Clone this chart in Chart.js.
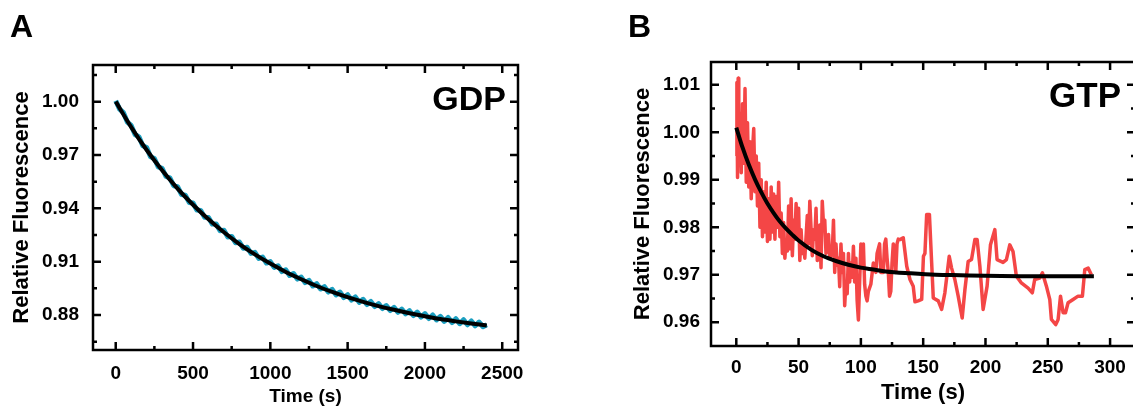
<!DOCTYPE html>
<html>
<head>
<meta charset="utf-8">
<script src="https://cdn.jsdelivr.net/npm/chart.js@4.4.1/dist/chart.umd.min.js"></script>
<style>
  html, body { margin: 0; padding: 0; background: #fff; overflow: hidden; }
  body { width: 1133px; height: 406px; position: relative; }
  canvas { position: absolute; top: 0; }
</style>
</head>
<body>
<canvas id="gdpChart" width="560" height="406" style="left:0"></canvas>
<canvas id="gtpChart" width="540" height="406" style="left:600px"></canvas>
<script>
// Panel A: GDP trace (every 25 s) and single-exponential fit
const gdpTime = [0, 25, 50, 75, 100, 125, 150, 175, 200, 225, 250, 275, 300, 325, 350, 375, 400, 425, 450, 475,
  500, 525, 550, 575, 600, 625, 650, 675, 700, 725, 750, 775, 800, 825, 850, 875, 900, 925, 950, 975,
  1000, 1025, 1050, 1075, 1100, 1125, 1150, 1175, 1200, 1225, 1250, 1275, 1300, 1325, 1350, 1375, 1400, 1425,
  1450, 1475, 1500, 1525, 1550, 1575, 1600, 1625, 1650, 1675, 1700, 1725, 1750, 1775, 1800, 1825, 1850, 1875,
  1900, 1925, 1950, 1975, 2000, 2025, 2050, 2075, 2100, 2125, 2150, 2175, 2200, 2225, 2250, 2275, 2300, 2325,
  2350, 2375, 2400]
const gdpSignal = [1.0005, 0.9958, 0.9938, 0.9885, 0.9866, 0.9815, 0.9802, 0.9752, 0.9742, 0.9690, 0.9680, 0.9633,
  0.9625, 0.9579, 0.9571, 0.9527, 0.9522, 0.9478, 0.9474, 0.9433, 0.9430, 0.9390, 0.9388, 0.9349, 0.9348, 0.9311,
  0.9311, 0.9274, 0.9276, 0.9239, 0.9242, 0.9206, 0.9210, 0.9175, 0.9181, 0.9146, 0.9152, 0.9118, 0.9126, 0.9092,
  0.9100, 0.9068, 0.9077, 0.9044, 0.9054, 0.9022, 0.9033, 0.9002, 0.9013, 0.8982, 0.8995, 0.8963, 0.8976, 0.8946,
  0.8959, 0.8929, 0.8944, 0.8913, 0.8929, 0.8898, 0.8914, 0.8884, 0.8901, 0.8871, 0.8888, 0.8859, 0.8876, 0.8847,
  0.8864, 0.8836, 0.8853, 0.8825, 0.8843, 0.8815, 0.8833, 0.8806, 0.8824, 0.8797, 0.8816, 0.8788, 0.8808, 0.8780,
  0.8800, 0.8772, 0.8792, 0.8764, 0.8786, 0.8757, 0.8779, 0.8751, 0.8773, 0.8745, 0.8766, 0.8739, 0.8760, 0.8734,
  0.8745]
const gdpFitTime = [0, 100, 200, 300, 400, 500, 600, 700, 800, 900, 1000, 1100, 1200, 1300, 1400, 1500, 1600, 1700,
  1800, 1900, 2000, 2100, 2200, 2300, 2400]
const gdpFit = [1.0000, 0.9857, 0.9728, 0.9614, 0.9511, 0.9420, 0.9338, 0.9265, 0.9199, 0.9141, 0.9089, 0.9042,
  0.9001, 0.8963, 0.8930, 0.8900, 0.8874, 0.8850, 0.8829, 0.8810, 0.8793, 0.8777, 0.8764, 0.8752, 0.8741]
const gdpXTicks = [0, 500, 1000, 1500, 2000, 2500]
const gdpYTicks = [0.88, 0.91, 0.94, 0.97, 1.00]

// Panel B: GTP trace and fit
const gtpTime = [0, 0.5, 1, 1.5, 2, 3, 4, 5, 6, 7, 8, 9, 10, 11, 12, 13, 14, 15, 16, 17, 18, 19, 20, 21, 22, 23, 24,
  25, 26, 27, 28, 29, 30, 31, 32, 33, 34, 35, 36, 37, 38, 39, 40, 41, 42, 43, 44, 45, 46, 47, 48, 49, 50, 51, 52,
  53, 54, 55, 57, 58, 59, 61, 62, 63, 64, 65, 67, 68, 69, 70, 71, 72, 74, 75, 77, 78, 79, 80, 81, 82, 83, 84, 85,
  86, 87, 88, 89, 90, 91, 92, 93, 94, 95, 96, 97, 98, 99, 100, 101, 102, 103, 104, 105, 106, 108, 110, 112, 113,
  115, 116, 118, 119, 120, 121, 122, 123, 124, 125, 126, 127, 128, 129, 130, 131.4, 134, 136.8, 139.4, 142, 143.4,
  146, 148.8, 150.2, 151.4, 152.8, 155, 156.8, 158.1, 162.1, 164.8, 167.4, 170.9, 172.8, 175.4, 178.1, 181.3,
  183.5, 186.1, 188.8, 191.5, 193.3, 195.5, 198.1, 201.3, 204, 207.5, 209.3, 214.1, 216.8, 219.5, 222.1, 224.8,
  228.8, 234.2, 237.6, 239.5, 243.5, 245.7, 248.9, 251.6, 252.9, 256.4, 258.3, 260.2, 262.3, 264.2, 266.3, 270.3,
  274.3, 277.8, 279.7, 282.4, 285]
const gtpSignal = [0.9950, 1.0105, 0.9905, 1.0114, 0.9930, 1.0040, 0.9915, 1.0060, 0.9935, 1.0092, 0.9895, 1.0020,
  0.9885, 0.9980, 0.9860, 0.9960, 1.0008, 0.9875, 0.9950, 0.9845, 0.9935, 0.9800, 0.9900, 0.9780, 0.9875, 0.9790,
  0.9895, 0.9770, 0.9860, 0.9775, 0.9885, 0.9790, 0.9870, 0.9775, 0.9865, 0.9800, 0.9895, 0.9780, 0.9830, 0.9745,
  0.9810, 0.9735, 0.9775, 0.9750, 0.9845, 0.9755, 0.9860, 0.9740, 0.9815, 0.9775, 0.9850, 0.9775, 0.9840, 0.9730,
  0.9795, 0.9745, 0.9765, 0.9735, 0.9825, 0.9765, 0.9855, 0.9740, 0.9795, 0.9775, 0.9840, 0.9730, 0.9805, 0.9715,
  0.9855, 0.9805, 0.9815, 0.9745, 0.9785, 0.9735, 0.9745, 0.9815, 0.9705, 0.9765, 0.9720, 0.9735, 0.9675, 0.9765,
  0.9705, 0.9745, 0.9635, 0.9685, 0.9660, 0.9745, 0.9685, 0.9725, 0.9695, 0.9760, 0.9685, 0.9735, 0.9645, 0.9605,
  0.9685, 0.9765, 0.9715, 0.9765, 0.9680, 0.9655, 0.9645, 0.9665, 0.9680, 0.9725, 0.9705, 0.9745, 0.9765, 0.9705,
  0.9705, 0.9765, 0.9775, 0.9735, 0.9705, 0.9655, 0.9665, 0.9725, 0.9765, 0.9755, 0.9705, 0.9765, 0.9775, 0.9774,
  0.9778, 0.9718, 0.9690, 0.9676, 0.9643, 0.9645, 0.9648, 0.9739, 0.9745, 0.9827, 0.9827, 0.9725, 0.9651, 0.9645,
  0.9627, 0.9662, 0.9739, 0.9714, 0.9690, 0.9655, 0.9609, 0.9669, 0.9728, 0.9732, 0.9774, 0.9774, 0.9718, 0.9627,
  0.9676, 0.9763, 0.9795, 0.9732, 0.9726, 0.9732, 0.9763, 0.9749, 0.9697, 0.9683, 0.9672, 0.9662, 0.9690, 0.9693,
  0.9704, 0.9676, 0.9648, 0.9606, 0.9595, 0.9606, 0.9655, 0.9620, 0.9620, 0.9641, 0.9648, 0.9655, 0.9655, 0.9711,
  0.9714, 0.9700]
const gtpFitTime = [0, 5, 10, 15, 20, 25, 30, 35, 40, 45, 50, 60, 70, 80, 90, 100, 110, 120, 140, 160, 180, 200,
  240, 287]
const gtpFit = [1.0010, 0.9968, 0.9932, 0.9901, 0.9874, 0.9850, 0.9830, 0.9812, 0.9797, 0.9784, 0.9772, 0.9753,
  0.9739, 0.9729, 0.9721, 0.9715, 0.9711, 0.9707, 0.9703, 0.9700, 0.9699, 0.9698, 0.9697, 0.9697]
const gtpXTicks = [0, 50, 100, 150, 200, 250, 300]
const gtpYTicks = [0.96, 0.97, 0.98, 0.99, 1.00, 1.01]

const FONT = "'Liberation Sans', Arial, Helvetica, sans-serif"
Chart.defaults.font.family = FONT
Chart.defaults.color = '#000'

const points = (xs, ys) => xs.map((x, i) => ({ x, y: ys[i] }))

// midpoints between major ticks, plus half a step outside each end
function halfSteps(major) {
  const step = major[1] - major[0]
  const out = [major[0] - step / 2]
  major.forEach(v => out.push(v + step / 2))
  return out
}

// boxed frame with inward ticks on all four sides, plus the panel letter and tag
const frameTicks = {
  id: 'frameTicks',
  afterDraw(chart, args, opts) {
    const { ctx, chartArea: { left, right, top, bottom } } = chart
    const xs = chart.scales.x
    const ys = chart.scales.y
    ctx.save()
    ctx.strokeStyle = '#000'
    ctx.lineWidth = 2.5
    ctx.lineCap = 'butt'
    const markX = (vals, len) => {
      vals.forEach(v => {
        const px = xs.getPixelForValue(v)
        if (px < left + 2 || px > right - 2) return
        ctx.beginPath()
        ctx.moveTo(px, bottom); ctx.lineTo(px, bottom - len)
        ctx.moveTo(px, top); ctx.lineTo(px, top + len)
        ctx.stroke()
      })
    }
    const markY = (vals, len) => {
      vals.forEach(v => {
        const py = ys.getPixelForValue(v)
        if (py < top + 2 || py > bottom - 2) return
        ctx.beginPath()
        ctx.moveTo(left, py); ctx.lineTo(left + len, py)
        ctx.moveTo(right, py); ctx.lineTo(right - len, py)
        ctx.stroke()
      })
    }
    markX(opts.xMajor, 8)
    markX(halfSteps(opts.xMajor), 4)
    markY(opts.yMajor, 8)
    markY(halfSteps(opts.yMajor), 4)
    ctx.lineWidth = 2.5
    ctx.strokeRect(left, top, right - left, bottom - top)

    ctx.fillStyle = '#000'
    ctx.textBaseline = 'alphabetic'
    ctx.textAlign = 'left'
    ctx.font = 'bold 32px ' + FONT
    ctx.fillText(opts.letter, opts.letterX, opts.letterY)
    ctx.textAlign = 'right'
    ctx.font = 'bold ' + opts.tagSize + 'px ' + FONT
    ctx.fillText(opts.tag, opts.tagX, opts.tagY)
    ctx.restore()
  }
}

function panel(canvasId, p) {
  return new Chart(document.getElementById(canvasId), {
    type: 'line',
    data: {
      datasets: [{
        data: points(p.fitTime, p.fit),
        borderColor: '#000',
        borderWidth: 4,
        pointRadius: 0,
        cubicInterpolationMode: 'monotone',
        order: 0
      }, {
        data: points(p.time, p.signal),
        borderColor: p.color,
        borderWidth: p.traceWidth,
        borderJoinStyle: 'round',
        pointRadius: 0,
        tension: 0,
        order: 1
      }]
    },
    options: {
      responsive: false,
      animation: false,
      events: [],
      layout: { padding: p.padding },
      plugins: {
        legend: { display: false },
        tooltip: { enabled: false },
        frameTicks: {
          xMajor: p.xTicks, yMajor: p.yTicks,
          letter: p.letter, letterX: p.letterX, letterY: 37,
          tag: p.tag, tagX: p.tagX, tagY: p.tagY, tagSize: p.tagSize
        }
      },
      scales: {
        x: {
          type: 'linear',
          min: p.xMin,
          max: p.xMax,
          grid: { display: false },
          border: { display: false },
          afterBuildTicks: s => { s.ticks = p.xTicks.map(value => ({ value })) },
          afterFit: s => { s.height = p.xHeight },
          ticks: {
            autoSkip: false,
            maxRotation: 0,
            padding: p.xTickPad,
            font: { size: 19, weight: 'bold' },
            callback: v => String(v)
          },
          title: {
            display: true,
            text: 'Time (s)',
            font: { size: p.xTitleSize, weight: 'bold', lineHeight: 1 },
            padding: { top: 0, bottom: p.xTitlePad }
          }
        },
        y: {
          type: 'linear',
          min: p.yMin,
          max: p.yMax,
          grid: { display: false },
          border: { display: false },
          afterBuildTicks: s => { s.ticks = p.yTicks.map(value => ({ value })) },
          afterFit: s => { s.width = p.yWidth },
          ticks: {
            padding: p.yTickPad,
            font: { size: 19, weight: 'bold' },
            callback: v => v.toFixed(2)
          },
          title: {
            display: true,
            text: 'Relative Fluorescence',
            font: { size: 22, weight: 'bold', lineHeight: 1 },
            padding: { top: p.yTitlePad, bottom: 0 }
          }
        }
      }
    },
    plugins: [frameTicks]
  })
}

panel('gdpChart', {
  time: gdpTime, signal: gdpSignal, fitTime: gdpFitTime, fit: gdpFit,
  xTicks: gdpXTicks, yTicks: gdpYTicks,
  color: '#1c9fc0', traceWidth: 5,
  xMin: -147, xMax: 2602, yMin: 0.8603, yMax: 1.0206,
  padding: { top: 65, right: 42, bottom: 0, left: 0 },
  xHeight: 56, yWidth: 93,
  xTickPad: 4, yTickPad: 6, xTitleSize: 19, xTitlePad: 0, yTitlePad: 11,
  letter: 'A', letterX: 10, tag: 'GDP', tagX: 506, tagY: 110, tagSize: 34
})

panel('gtpChart', {
  time: gtpTime, signal: gtpSignal, fitTime: gtpFitTime, fit: gtpFit,
  xTicks: gtpXTicks, yTicks: gtpYTicks,
  color: '#f44646', traceWidth: 3.5,
  xMin: -20.3, xMax: 320, yMin: 0.9550, yMax: 1.0148,
  padding: { top: 62, right: 5, bottom: 0, left: 0 },
  xHeight: 60, yWidth: 111,
  xTickPad: 2, yTickPad: 3, xTitleSize: 22, xTitlePad: 2, yTitlePad: 32,
  letter: 'B', letterX: 28, tag: 'GTP', tagX: 521, tagY: 107, tagSize: 35
})
</script>
</body>
</html>
